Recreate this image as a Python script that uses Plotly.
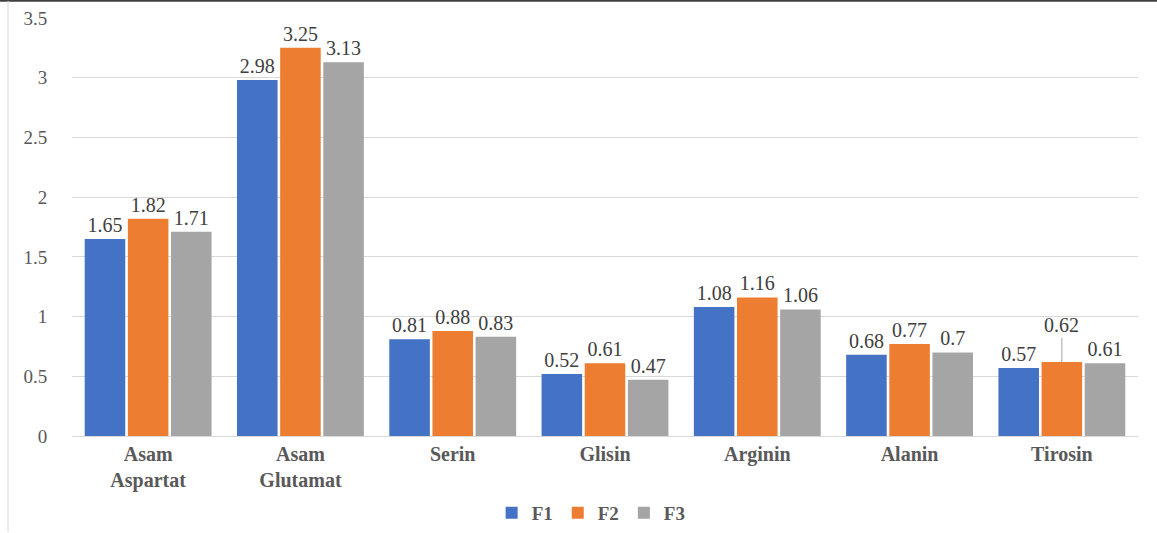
import plotly.graph_objects as go

categories = ["Asam<br>Aspartat", "Asam<br>Glutamat", "Serin", "Glisin", "Arginin", "Alanin", "Tirosin"]
f1 = [1.65, 2.98, 0.81, 0.52, 1.08, 0.68, 0.57]
f2 = [1.82, 3.25, 0.88, 0.61, 1.16, 0.77, 0.62]
f3 = [1.71, 3.13, 0.83, 0.47, 1.06, 0.70, 0.61]
series = [("F1", f1, "#4472C4"), ("F2", f2, "#ED7D31"), ("F3", f3, "#A5A5A5")]

serif = "Liberation Serif"
fig = go.Figure()
for name, vals, col in series:
    texts = [f"{v:g}" for v in vals]
    if name == "F2":
        texts[-1] = ""
    fig.add_trace(go.Bar(
        name=name, x=categories, y=vals, marker=dict(color=col, line=dict(width=0)),
        text=texts, textposition="outside", cliponaxis=False,
        textfont=dict(family=serif, size=20, color="#404040"),
    ))

# leader-line label for Tirosin F2
fig.add_annotation(
    x=categories[-1], y=f2[-1], text=f"{f2[-1]:g}", showarrow=True, arrowhead=0,
    arrowcolor="#a6a6a6", arrowwidth=1, ax=0, ay=-24, yanchor="bottom",
    font=dict(family=serif, size=20, color="#404040"), standoff=0,
)

fig.update_layout(
    width=1157, height=533,
    margin=dict(l=72, r=19, t=18, b=97, autoexpand=False),
    paper_bgcolor="white", plot_bgcolor="white",
    barmode="group", bargap=0.15, bargroupgap=0.06,
    showlegend=True,
    legend=dict(orientation="h", x=0.487, xanchor="center", y=-0.184, yanchor="middle",
                font=dict(family=serif, size=19, color="#595959", weight="bold"),
                itemwidth=30, traceorder="normal"),
    xaxis=dict(tickfont=dict(family=serif, size=20, color="#595959", weight="bold"),
               showline=True, linecolor="#d9d9d9", linewidth=1, ticks="", automargin=False),
    yaxis=dict(range=[0, 3.5], dtick=0.5, tickfont=dict(family=serif, size=19, color="#595959"),
               showgrid=True, gridcolor="#d9d9d9", gridwidth=1, zeroline=False,
               ticks="", ticksuffix="     ", automargin=False),
    shapes=[
        dict(type="line", xref="paper", yref="paper", x0=-0.0675, x1=1.02, y0=1.041, y1=1.041,
             line=dict(color="#404040", width=2)),
        dict(type="line", xref="paper", yref="paper", x0=-0.060, x1=-0.060, y0=1.041, y1=-0.23,
             line=dict(color="#d9d9d9", width=1)),
    ],
)
fig.write_html("out.html", config={"displayModeBar": False},
               post_script="document.body.style.margin='0';")
